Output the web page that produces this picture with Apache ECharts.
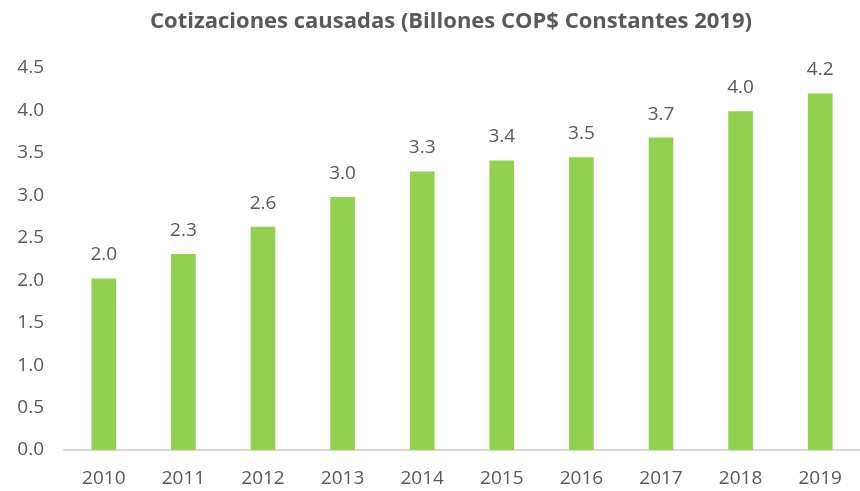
<!DOCTYPE html>
<html>
<head>
<meta charset="utf-8">
<script src="https://cdn.jsdelivr.net/npm/echarts@6/dist/echarts.min.js"></script>
<style>
  html, body { margin: 0; padding: 0; background: #fff; }
  #chart { width: 860px; height: 491px; }
</style>
</head>
<body>
<div id="chart"></div>
<script>
// datos
const years = ['2010', '2011', '2012', '2013', '2014', '2015', '2016', '2017', '2018', '2019'];
const cotizaciones = [2.02, 2.31, 2.63, 2.98, 3.28, 3.41, 3.45, 3.68, 3.99, 4.20];
const yTicks = [0, 0.5, 1, 1.5, 2, 2.5, 3, 3.5, 4, 4.5];

const textColor = '#595959';
const font = 'Open Sans';

let chart = echarts.init(document.getElementById('chart'), null, { renderer: 'canvas' });

chart.setOption({
  animation: false,
  title: {
    text: 'Cotizaciones causadas (Billones COP$ Constantes 2019)',
    left: 446,
    textAlign: 'center',
    top: 6,
    textStyle: {
      color: textColor,
      fontFamily: font,
      fontWeight: 'bold',
      fontSize: 22
    }
  },
  grid: {
    left: 64,
    top: 68,
    width: 808,
    height: 382
  },
  xAxis: {
    type: 'category',
    data: years,
    axisLine: { lineStyle: { color: '#d9d9d9', width: 2 } },
    axisTick: { show: false },
    axisLabel: {
      color: textColor,
      fontFamily: font,
      fontSize: 19,
      margin: 19
    }
  },
  yAxis: {
    type: 'value',
    min: yTicks[0],
    max: yTicks[yTicks.length - 1],
    interval: 0.5,
    splitLine: { show: false },
    axisLine: { show: false },
    axisTick: { show: false },
    axisLabel: {
      color: textColor,
      fontFamily: font,
      fontSize: 19,
      margin: 20,
      formatter: v => v.toFixed(1)
    }
  },
  series: [{
    type: 'bar',
    data: cotizaciones,
    barWidth: '31%',
    itemStyle: { color: '#92d050' },
    label: {
      show: true,
      position: 'top',
      distance: 14,
      color: textColor,
      fontFamily: font,
      fontSize: 19,
      formatter: p => p.value.toFixed(1)
    }
  }]
});
</script>
</body>
</html>
